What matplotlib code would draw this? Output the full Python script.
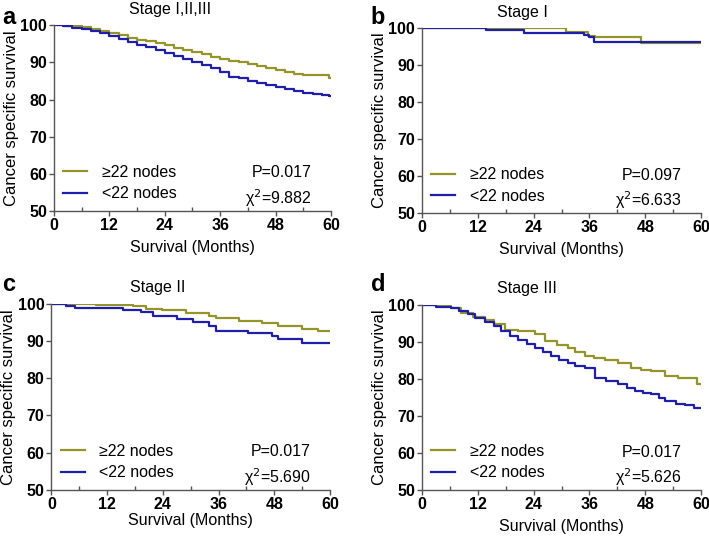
import matplotlib
matplotlib.use('Agg')
import matplotlib.pyplot as plt
from matplotlib import ticker

plt.rcParams['font.family'] = ['Liberation Sans', 'DejaVu Sans']

# Panel a : Stage I,II,III
a_t = [0, 2, 4, 6, 8, 10, 12, 14, 16, 18, 20, 22, 24, 26, 28, 30, 32, 34, 36, 38, 40, 42, 44, 46, 48, 50, 52, 54, 56, 58, 59.5, 60]
a_hi = [100, 99.9, 99.7, 99.5, 99.0, 98.5, 97.9, 97.3, 96.7, 96.1, 95.7, 95.2, 94.8, 94.0, 93.3, 92.9, 92.3, 91.5, 90.8, 90.5, 90.2, 89.5, 89.0, 88.5, 87.9, 87.5, 87.0, 86.7, 86.6, 86.5, 85.8, 85.8]
a_lo = [100, 99.7, 99.3, 99.0, 98.5, 97.8, 97.2, 96.2, 95.5, 94.8, 94.2, 93.3, 92.6, 91.8, 91.0, 90.2, 89.4, 88.5, 87.5, 86.2, 85.7, 85.0, 84.4, 84.0, 83.5, 82.8, 82.3, 81.8, 81.4, 81.2, 81.0, 81.0]

# Panel b : Stage I
b_hi_t = [0, 31.0, 35.7, 37.2, 47.0, 60]
b_hi = [100, 98.8, 97.8, 97.5, 96.0, 96.0]
b_lo_t = [0, 13.8, 22.0, 34.8, 36.0, 37.0, 60]
b_lo = [100, 99.4, 98.7, 98.0, 97.5, 96.3, 96.3]

# Panel c : Stage II
c_hi_t = [0, 9.6, 17.5, 20.4, 23.9, 28.9, 33.9, 35.4, 40.4, 45.4, 48.9, 53.9, 57.4, 60]
c_hi = [100, 99.7, 99.4, 98.5, 98.2, 97.5, 96.8, 96.1, 95.4, 94.7, 94.0, 93.1, 92.7, 92.7]
c_lo_t = [0, 3.2, 5.0, 15.4, 19.3, 21.8, 27.0, 30.4, 33.9, 35.4, 42.4, 47.5, 48.9, 53.9, 60]
c_lo = [100, 99.4, 98.9, 98.2, 97.85, 96.7, 96.0, 95.2, 94.1, 92.8, 92.2, 91.4, 90.4, 89.5, 89.5]

# Panel d : Stage III
d_hi_t = [0, 3, 6.3, 8.4, 11, 13.5, 15.5, 17.8, 20.6, 24.2, 26.4, 29, 31.4, 33, 35, 37, 39.3, 42.1, 45, 47, 49.3, 52.2, 55, 57.6, 59, 60]
d_hi = [100, 99.6, 99.1, 97.8, 96.8, 96.0, 94.8, 93.3, 93.0, 92.0, 90.2, 89.2, 88.4, 87.3, 86.1, 85.6, 85.2, 84.3, 83.0, 82.5, 82.1, 80.7, 80.3, 80.1, 78.5, 78.5]
d_lo_t = [0, 3, 6.3, 8, 9.9, 11.5, 13.5, 15.5, 17.1, 19, 20.6, 22.5, 24.2, 26, 27.8, 29.5, 31.4, 33, 35, 37.1, 39.5, 42.1, 44, 45.7, 47.5, 49.3, 51, 52.2, 54.5, 56.5, 58.5, 60]
d_lo = [100, 99.5, 99.1, 98.4, 97.4, 96.4, 95.4, 94.2, 92.9, 91.7, 90.6, 89.5, 88.4, 87.2, 86.1, 85.2, 84.3, 83.6, 83.0, 80.3, 79.3, 78.5, 77.5, 76.7, 76.2, 75.8, 74.8, 74.0, 73.3, 72.9, 72.2, 72.2]

titles = ['Stage I,II,III', 'Stage I', 'Stage II', 'Stage III']
letters = ['a', 'b', 'c', 'd']
p_vals = ['P=0.017', 'P=0.097', 'P=0.017', 'P=0.017']
chi_vals = ['9.882', '6.633', '5.690', '5.626']
curves = [((a_t, a_hi), (a_t, a_lo)),
          ((b_hi_t, b_hi), (b_lo_t, b_lo)),
          ((c_hi_t, c_hi), (c_lo_t, c_lo)),
          ((d_hi_t, d_hi), (d_lo_t, d_lo))]

col_hi = '#94942a'
col_lo = '#1e1eaa'
axes_pos = [[0.076, 0.607, 0.391, 0.346],
            [0.595, 0.603, 0.394, 0.345],
            [0.0725, 0.0875, 0.393, 0.347],
            [0.595, 0.0875, 0.394, 0.345]]
title_x = [0.42, 0.36, 0.38, 0.376]
xlab_pad = [5, 5, 1, 5]
letter_xy = [(0.003, 0.968), (0.523, 0.968), (0.003, 0.47), (0.523, 0.47)]

fig = plt.figure(figsize=(7.09, 5.37), dpi=100)
for i in range(4):
    ax = fig.add_axes(axes_pos[i])
    (th, yh), (tl, yl) = curves[i]
    ax.plot(th, yh, drawstyle='steps-post', color=col_hi, lw=1.6, label='\u226522 nodes')
    ax.plot(tl, yl, drawstyle='steps-post', color=col_lo, lw=1.6, label='<22 nodes')
    ax.set_xlim(0, 60)
    ax.set_ylim(50, 100)
    ax.xaxis.set_major_locator(ticker.MultipleLocator(12))
    ax.xaxis.set_minor_locator(ticker.MultipleLocator(6))
    ax.yaxis.set_major_locator(ticker.MultipleLocator(10))
    for s in ['top', 'right']:
        ax.spines[s].set_visible(False)
    for s in ['left', 'bottom']:
        ax.spines[s].set_color('#555555')
        ax.spines[s].set_linewidth(1.0)
    ax.tick_params(which='major', length=3.5, width=1, color='#555555', pad=1.5)
    ax.tick_params(which='minor', length=3, width=1, color='#555555', direction='in')
    for lab in ax.get_xticklabels() + ax.get_yticklabels():
        lab.set_fontweight('bold')
        lab.set_fontsize(11.5)
    ax.set_xlabel('Survival (Months)', fontsize=11.5, labelpad=xlab_pad[i])
    ax.set_ylabel('Cancer specific survival', fontsize=12, labelpad=1)
    ax.text(title_x[i], 1.085, titles[i], transform=ax.transAxes, ha='center', va='center', fontsize=11.5)
    fig.text(letter_xy[i][0], letter_xy[i][1], letters[i], ha='left', va='center', fontsize=17, fontweight='bold')
    ax.legend(loc='lower left', bbox_to_anchor=(0.0, 0.0), frameon=False, fontsize=11.5,
              handlelength=1.5, handletextpad=0.9, labelspacing=0.4, borderaxespad=0.2)
    ax.text(0.93, 0.205, p_vals[i], transform=ax.transAxes, ha='right', va='center', fontsize=11.5)
    ax.text(0.93, 0.07, '\u03c7$^{2}$=' + chi_vals[i], transform=ax.transAxes, ha='right', va='center', fontsize=11.5)

fig.savefig('out.png', dpi=100)
